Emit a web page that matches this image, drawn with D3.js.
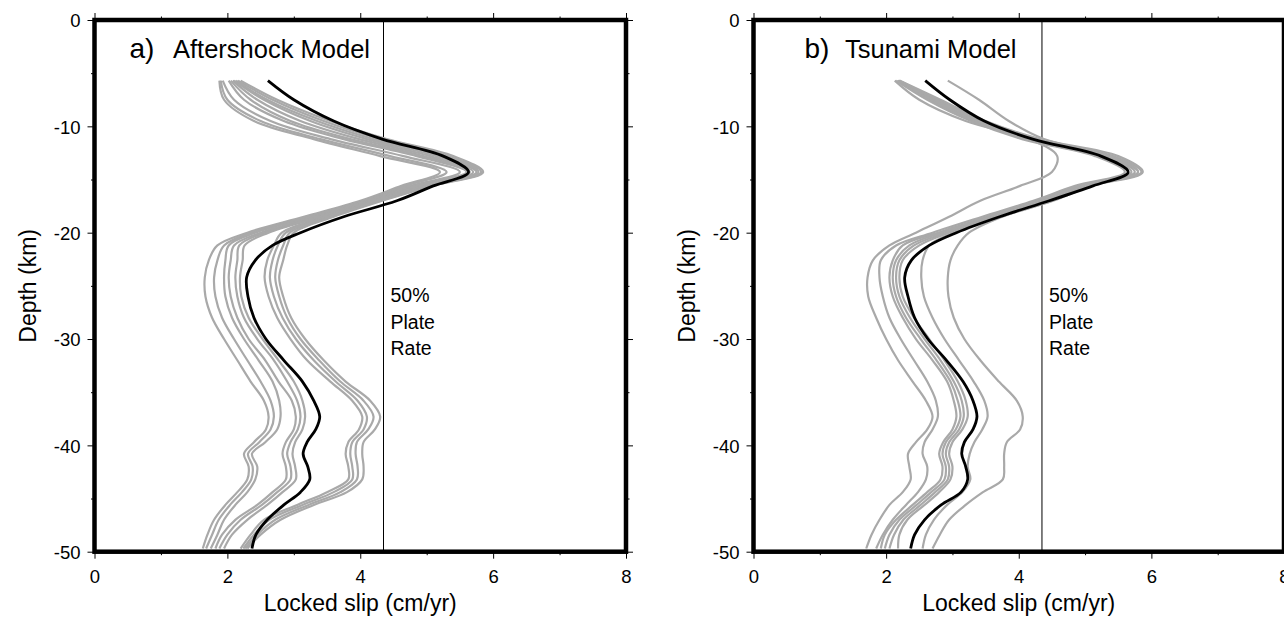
<!DOCTYPE html>
<html>
<head>
<meta charset="utf-8">
<script src="https://cdn.jsdelivr.net/npm/d3@7"></script>
<style>
  body { margin: 0; background: #fff; }
  svg { display: block; }
  text { font-family: "Liberation Sans", Arial, Helvetica, sans-serif; fill: #000; }
</style>
</head>
<body>
<svg id="chart" width="1284" height="619"></svg>
<script>
// Depth nodes (km) shared by every slip profile
const depthKm = [-5.7, -7.5, -9.5, -11.2, -12.8, -14.3, -15.6, -17, -18.5, -20,
  -21.2, -22.6, -24.2, -26, -28, -30, -32, -34, -35.8, -37.3,
  -38.5, -39.7, -40.8, -42, -43.2, -44.4, -45.6, -47, -48.4, -49.7];

// a) Aftershock model: preferred profile and alternative runs (cm/yr)
const aftershockBest = [2.61, 3.00, 3.60, 4.33, 5.25, 5.63, 5.10, 4.55, 3.75, 3.10,
  2.68, 2.42, 2.29, 2.31, 2.40, 2.58, 2.85, 3.13, 3.30, 3.39,
  3.33, 3.20, 3.14, 3.21, 3.24, 3.10, 2.85, 2.60, 2.43, 2.37];
const aftershockRuns = [
  [1.88, 1.95, 2.40, 3.30, 4.30, 5.20, 4.62, 4.00, 3.15, 2.30, 1.85, 1.72, 1.66, 1.67, 1.77, 1.95, 2.15, 2.35, 2.55, 2.62, 2.58, 2.40, 2.25, 2.32, 2.30, 2.15, 1.97, 1.80, 1.70, 1.63],
  [1.90, 2.00, 2.50, 3.40, 4.45, 5.30, 4.68, 4.05, 3.20, 2.36, 1.95, 1.85, 1.80, 1.82, 1.92, 2.10, 2.30, 2.50, 2.65, 2.70, 2.65, 2.48, 2.31, 2.38, 2.36, 2.22, 2.04, 1.87, 1.77, 1.68],
  [1.93, 2.10, 2.65, 3.55, 4.65, 5.50, 4.75, 4.08, 3.25, 2.42, 2.02, 1.97, 1.95, 1.97, 2.07, 2.25, 2.47, 2.68, 2.78, 2.80, 2.75, 2.57, 2.37, 2.45, 2.42, 2.30, 2.12, 1.95, 1.85, 1.75],
  [2.02, 2.25, 2.85, 3.75, 4.85, 5.60, 4.80, 4.12, 3.32, 2.50, 2.10, 2.05, 2.02, 2.05, 2.15, 2.32, 2.57, 2.77, 2.97, 3.03, 3.00, 2.88, 2.83, 2.88, 2.88, 2.68, 2.45, 2.12, 1.92, 1.82],
  [2.05, 2.35, 2.95, 3.85, 4.95, 5.65, 4.85, 4.15, 3.38, 2.56, 2.18, 2.15, 2.12, 2.15, 2.25, 2.45, 2.70, 2.90, 3.05, 3.10, 3.06, 2.95, 2.90, 2.95, 2.95, 2.75, 2.52, 2.20, 2.00, 1.88],
  [2.08, 2.45, 3.10, 3.98, 5.05, 5.70, 4.90, 4.18, 3.42, 2.62, 2.26, 2.23, 2.19, 2.21, 2.32, 2.53, 2.77, 3.00, 3.13, 3.17, 3.13, 3.02, 2.98, 3.02, 3.03, 2.83, 2.60, 2.30, 2.07, 1.95],
  [2.10, 2.55, 3.25, 4.10, 5.15, 5.75, 4.95, 4.22, 3.48, 2.82, 2.70, 2.60, 2.56, 2.62, 2.75, 2.95, 3.20, 3.55, 3.88, 4.03, 3.98, 3.82, 3.78, 3.82, 3.82, 3.50, 3.05, 2.55, 2.35, 2.20],
  [2.13, 2.60, 3.35, 4.20, 5.25, 5.78, 5.00, 4.26, 3.52, 2.88, 2.76, 2.68, 2.64, 2.70, 2.83, 3.03, 3.30, 3.63, 3.96, 4.10, 4.05, 3.88, 3.85, 3.88, 3.88, 3.60, 3.13, 2.63, 2.40, 2.24],
  [2.16, 2.68, 3.45, 4.30, 5.32, 5.82, 5.05, 4.30, 3.56, 2.94, 2.84, 2.76, 2.72, 2.78, 2.90, 3.10, 3.38, 3.70, 4.05, 4.20, 4.12, 3.95, 3.93, 3.96, 3.95, 3.70, 3.22, 2.72, 2.45, 2.27],
  [2.20, 2.75, 3.55, 4.40, 5.40, 5.85, 5.08, 4.33, 3.60, 3.00, 2.90, 2.84, 2.78, 2.84, 2.96, 3.17, 3.45, 3.78, 4.15, 4.30, 4.22, 4.05, 4.03, 4.05, 4.03, 3.80, 3.30, 2.80, 2.50, 2.30]
];

// b) Tsunami model: preferred profile and alternative runs (cm/yr)
const tsunamiBest = [2.59, 2.96, 3.48, 4.21, 5.24, 5.65, 5.12, 4.46, 3.71, 3.06,
  2.65, 2.38, 2.28, 2.33, 2.43, 2.63, 2.91, 3.16, 3.31, 3.37,
  3.31, 3.18, 3.14, 3.20, 3.23, 3.13, 2.83, 2.58, 2.43, 2.37];
const tsunamiRuns = [
  [2.13, 2.50, 3.20, 4.15, 4.58, 4.50, 4.02, 3.42, 2.95, 2.45, 2.05, 1.80, 1.72, 1.73, 1.85, 2.00, 2.18, 2.40, 2.60, 2.70, 2.62, 2.45, 2.33, 2.35, 2.37, 2.25, 2.05, 1.90, 1.78, 1.70],
  [2.15, 2.62, 3.28, 4.05, 5.15, 5.60, 4.85, 4.22, 3.45, 2.70, 2.15, 1.92, 1.90, 1.95, 2.05, 2.22, 2.42, 2.62, 2.75, 2.78, 2.70, 2.58, 2.55, 2.62, 2.60, 2.48, 2.30, 2.10, 1.95, 1.85],
  [2.17, 2.66, 3.32, 4.10, 5.22, 5.70, 4.90, 4.28, 3.52, 2.78, 2.25, 2.10, 2.05, 2.10, 2.25, 2.45, 2.70, 2.92, 3.02, 3.06, 3.00, 2.86, 2.80, 2.85, 2.82, 2.62, 2.40, 2.15, 1.98, 1.92],
  [2.18, 2.70, 3.36, 4.15, 5.28, 5.75, 4.95, 4.32, 3.57, 2.84, 2.35, 2.15, 2.10, 2.15, 2.30, 2.52, 2.76, 2.97, 3.08, 3.12, 3.05, 2.90, 2.85, 2.90, 2.88, 2.68, 2.46, 2.20, 2.05, 1.98],
  [2.19, 2.74, 3.40, 4.20, 5.35, 5.80, 5.00, 4.40, 3.62, 2.90, 2.42, 2.20, 2.15, 2.20, 2.36, 2.58, 2.82, 3.02, 3.14, 3.17, 3.10, 2.95, 2.90, 2.95, 2.93, 2.74, 2.52, 2.26, 2.12, 2.05],
  [2.20, 2.78, 3.45, 4.25, 5.42, 5.85, 5.05, 4.48, 3.66, 2.95, 2.50, 2.25, 2.20, 2.25, 2.42, 2.65, 2.88, 3.08, 3.20, 3.23, 3.15, 3.00, 2.95, 3.00, 2.97, 2.80, 2.58, 2.32, 2.20, 2.18],
  [2.20, 2.82, 3.50, 4.32, 5.50, 5.87, 5.10, 4.52, 3.72, 3.02, 2.65, 2.55, 2.53, 2.57, 2.70, 2.88, 3.10, 3.32, 3.48, 3.53, 3.45, 3.33, 3.26, 3.23, 3.27, 3.15, 2.92, 2.72, 2.60, 2.55],
  [2.93, 3.40, 3.85, 4.38, 5.35, 5.80, 5.05, 4.50, 3.75, 3.25, 3.08, 2.97, 2.93, 2.94, 3.02, 3.18, 3.42, 3.70, 3.97, 4.06, 4.02, 3.82, 3.78, 3.78, 3.76, 3.46, 3.20, 2.95, 2.81, 2.70]
];

// Axis ticks and reference line
const slipMajorTicks = [0, 2, 4, 6, 8];
const slipMinorTicks = [1, 3, 5, 7];
const depthMajorTicks = [0, -10, -20, -30, -40, -50];
const depthMinorTicks = [-5, -15, -25, -35, -45];
const halfPlateRate = 4.35;
const halfPlateLabel = ["50%", "Plate", "Rate"];
const panelLetters = ["a)", "b)"];
const panelNames = ["Aftershock Model", "Tsunami Model"];
const xAxisTitle = "Locked slip (cm/yr)";
const yAxisTitle = "Depth (km)";

const svg = d3.select("#chart");
const plotTop = 20, plotBottom = 551.7;

const panels = [
  { left: 94.5, right: 626, best: aftershockBest, runs: aftershockRuns,
    letter: panelLetters[0], name: panelNames[0], letterDx: 35, nameDx: 78.5 },
  { left: 753.5, right: 1284, best: tsunamiBest, runs: tsunamiRuns,
    letter: panelLetters[1], name: panelNames[1], letterDx: 51, nameDx: 91.5 }
];

const y = d3.scaleLinear().domain([-50, 0]).range([plotBottom, plotTop]);
// plain hyphen-minus for negative tick labels
const plainNumber = d => String(d);

panels.forEach((p, pi) => {
  const x = d3.scaleLinear().domain([0, 8]).range([p.left, p.right]);
  const g = svg.append("g");

  const clipId = "clip" + pi;
  svg.append("defs").append("clipPath").attr("id", clipId)
    .append("rect").attr("x", p.left).attr("y", plotTop)
    .attr("width", p.right - p.left).attr("height", plotBottom - plotTop);

  const line = d3.line()
    .x(v => x(v))
    .y((v, i) => y(depthKm[i]))
    .curve(d3.curveCatmullRom.alpha(0.5));

  const plot = g.append("g").attr("clip-path", `url(#${clipId})`);

  // reference line at half the plate rate
  plot.append("line")
    .attr("x1", x(halfPlateRate)).attr("x2", x(halfPlateRate))
    .attr("y1", plotTop).attr("y2", plotBottom)
    .attr("stroke", "#000").attr("stroke-width", 1);

  plot.selectAll("path.run").data(p.runs).join("path")
    .attr("class", "run")
    .attr("d", line)
    .attr("fill", "none")
    .attr("stroke", "#a9a9a9")
    .attr("stroke-width", 2.2)
    .attr("stroke-linejoin", "round");

  plot.append("path")
    .datum(p.best)
    .attr("d", line)
    .attr("fill", "none")
    .attr("stroke", "#000")
    .attr("stroke-width", 2.8)
    .attr("stroke-linejoin", "round");

  // axes: ticks on all four sides, labels on left and bottom
  const tidy = sel => sel.call(s => s.select(".domain").remove())
    .selectAll(".tick line").attr("stroke", "#000").attr("stroke-width", 1);

  const bMaj = g.append("g").attr("transform", `translate(0,${plotBottom})`)
    .call(d3.axisBottom(x).tickValues(slipMajorTicks).tickSize(7).tickSizeOuter(0).tickFormat(plainNumber));
  tidy(bMaj);
  bMaj.selectAll("text").attr("y", 31).attr("dy", null).attr("font-size", 18.5)
    .style("font-family", '"Liberation Sans", Arial, sans-serif');
  tidy(g.append("g").attr("transform", `translate(0,${plotBottom})`)
    .call(d3.axisBottom(x).tickValues(slipMinorTicks).tickSize(3.5).tickSizeOuter(0).tickFormat("")));
  tidy(g.append("g").attr("transform", `translate(0,${plotTop})`)
    .call(d3.axisTop(x).tickValues(slipMajorTicks).tickSize(7).tickSizeOuter(0).tickFormat("")));
  tidy(g.append("g").attr("transform", `translate(0,${plotTop})`)
    .call(d3.axisTop(x).tickValues(slipMinorTicks).tickSize(3.5).tickSizeOuter(0).tickFormat("")));

  const lMaj = g.append("g").attr("transform", `translate(${p.left},0)`)
    .call(d3.axisLeft(y).tickValues(depthMajorTicks).tickSize(7).tickSizeOuter(0).tickFormat(plainNumber));
  tidy(lMaj);
  lMaj.selectAll("text").attr("x", -14).attr("dy", "0.36em").attr("font-size", 18.5)
    .style("font-family", '"Liberation Sans", Arial, sans-serif');
  tidy(g.append("g").attr("transform", `translate(${p.left},0)`)
    .call(d3.axisLeft(y).tickValues(depthMinorTicks).tickSize(3.5).tickSizeOuter(0).tickFormat("")));
  tidy(g.append("g").attr("transform", `translate(${p.right},0)`)
    .call(d3.axisRight(y).tickValues(depthMajorTicks).tickSize(7).tickSizeOuter(0).tickFormat("")));
  tidy(g.append("g").attr("transform", `translate(${p.right},0)`)
    .call(d3.axisRight(y).tickValues(depthMinorTicks).tickSize(3.5).tickSizeOuter(0).tickFormat("")));

  // heavy frame
  g.append("rect")
    .attr("x", p.left).attr("y", plotTop)
    .attr("width", p.right - p.left).attr("height", plotBottom - plotTop)
    .attr("fill", "none").attr("stroke", "#000").attr("stroke-width", 4.5);

  // panel title
  g.append("text").attr("x", p.left + p.letterDx).attr("y", 58)
    .attr("font-size", 28).text(p.letter);
  g.append("text").attr("x", p.left + p.nameDx).attr("y", 58)
    .attr("font-size", 25.5).text(p.name);

  // half plate rate annotation
  g.append("text").attr("x", x(halfPlateRate) + 7).attr("y", 302)
    .attr("font-size", 19.5)
    .selectAll("tspan").data(halfPlateLabel).join("tspan")
    .attr("x", x(halfPlateRate) + 7)
    .attr("dy", (d, i) => i === 0 ? 0 : 26.5)
    .text(d => d);

  // axis titles
  g.append("text")
    .attr("x", (p.left + p.right) / 2).attr("y", 611)
    .attr("text-anchor", "middle").attr("font-size", 23)
    .text(xAxisTitle);
  g.append("text")
    .attr("transform", `translate(${p.left - 59},${(plotTop + plotBottom) / 2}) rotate(-90)`)
    .attr("text-anchor", "middle").attr("font-size", 23)
    .text(yAxisTitle);
});
</script>
</body>
</html>
